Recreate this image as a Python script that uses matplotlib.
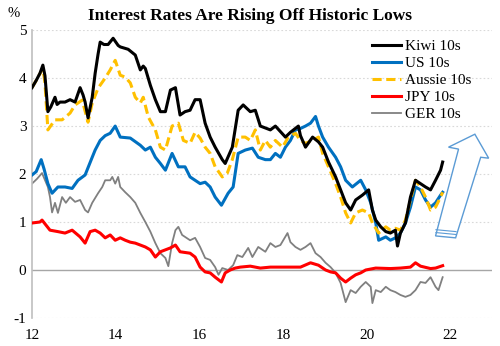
import matplotlib
matplotlib.use("Agg")
import matplotlib.pyplot as plt
from matplotlib.patches import Polygon

# decimal years (12 = 2012) and 10y yields
kiwi_t = [12.00, 12.10, 12.19, 12.26, 12.31, 12.38, 12.45, 12.55, 12.60, 12.67, 12.79, 12.91,
          13.03, 13.15, 13.22, 13.27, 13.34, 13.44, 13.51, 13.58, 13.63, 13.72, 13.82, 13.94,
          14.06, 14.11, 14.30, 14.47, 14.59, 14.66, 14.71, 14.83, 14.95, 15.07, 15.19, 15.31,
          15.43, 15.54, 15.66, 15.78, 15.90, 16.02, 16.14, 16.26, 16.38, 16.55, 16.62, 16.79,
          16.93, 17.05, 17.22, 17.34, 17.46, 17.70, 17.82, 18.06, 18.18, 18.37, 18.42, 18.54,
          18.71, 18.85, 18.95, 19.09, 19.26, 19.38, 19.50, 19.62, 19.74, 19.90, 20.05, 20.14,
          20.22, 20.34, 20.46, 20.57, 20.69, 20.74, 20.81, 20.93, 21.05, 21.17, 21.29, 21.41,
          21.53, 21.65, 21.77, 21.82]
kiwi = [3.80, 3.95, 4.10, 4.27, 4.05, 3.30, 3.40, 3.60, 3.45, 3.50, 3.50, 3.55,
        3.50, 3.80, 3.65, 3.50, 3.17, 3.60, 4.10, 4.50, 4.75, 4.70, 4.70, 4.83,
        4.68, 4.65, 4.60, 4.48, 4.17, 4.25, 4.20, 3.85, 3.55, 3.30, 3.30, 3.75,
        3.80, 3.23, 3.30, 3.33, 3.55, 3.55, 3.06, 2.77, 2.56, 2.30, 2.22, 2.56,
        3.33, 3.44, 3.30, 3.33, 3.00, 2.92, 3.00, 2.77, 2.87, 3.00, 2.80, 2.56,
        2.77, 2.67, 2.56, 2.25, 1.94, 1.67, 1.40, 1.25, 1.46, 1.56, 1.67, 1.25,
        1.04, 0.90, 0.80, 0.77, 0.83, 0.50, 0.77, 0.98, 1.52, 1.87, 1.80, 1.73,
        1.67, 1.87, 2.08, 2.25]

us_t = [12.00, 12.10, 12.22, 12.29, 12.38, 12.48, 12.62, 12.79, 12.96, 13.10, 13.27, 13.44,
        13.51, 13.63, 13.75, 13.87, 13.99, 14.11, 14.35, 14.59, 14.71, 14.83, 14.95, 15.07,
        15.19, 15.35, 15.50, 15.66, 15.78, 15.90, 16.02, 16.14, 16.26, 16.38, 16.53, 16.69,
        16.81, 16.93, 17.10, 17.27, 17.41, 17.58, 17.70, 17.82, 17.94, 18.06, 18.18, 18.30,
        18.42, 18.54, 18.66, 18.78, 18.85, 18.95, 19.09, 19.26, 19.38, 19.50, 19.66, 19.86,
        19.98, 20.10, 20.22, 20.29, 20.46, 20.57, 20.69, 20.81, 20.93, 21.05, 21.17, 21.29,
        21.41, 21.53, 21.65, 21.77, 21.82]
us = [1.98, 2.05, 2.30, 2.10, 1.80, 1.60, 1.73, 1.73, 1.70, 1.87, 1.98, 2.35,
      2.50, 2.70, 2.80, 2.85, 3.00, 2.77, 2.75, 2.60, 2.50, 2.56, 2.35, 2.22,
      2.08, 2.43, 2.15, 2.15, 1.94, 1.87, 1.80, 1.83, 1.73, 1.52, 1.35, 1.60,
      1.73, 2.43, 2.50, 2.54, 2.35, 2.30, 2.30, 2.43, 2.35, 2.56, 2.70, 2.92,
      2.95, 3.00, 3.06, 3.20, 3.00, 2.77, 2.56, 2.35, 2.15, 1.87, 1.73, 1.87,
      1.67, 1.40, 0.98, 0.62, 0.69, 0.62, 0.67, 0.77, 0.98, 1.31, 1.73, 1.67,
      1.46, 1.31, 1.40, 1.56, 1.62]

aus_t = [12.00, 12.10, 12.26, 12.31, 12.38, 12.55, 12.72, 12.91, 13.03, 13.20, 13.34, 13.44,
         13.58, 13.75, 13.87, 13.99, 14.11, 14.23, 14.35, 14.47, 14.59, 14.66, 14.78, 14.95,
         15.07, 15.19, 15.35, 15.50, 15.62, 15.78, 15.90, 16.02, 16.14, 16.26, 16.38, 16.55,
         16.67, 16.79, 16.93, 17.10, 17.22, 17.34, 17.46, 17.58, 17.70, 17.82, 17.99, 18.13,
         18.30, 18.42, 18.54, 18.71, 18.85, 18.95, 19.09, 19.26, 19.38, 19.50, 19.62, 19.74,
         19.90, 20.05, 20.14, 20.29, 20.46, 20.57, 20.69, 20.81, 20.93, 21.05, 21.17, 21.29,
         21.41, 21.53, 21.65, 21.77, 21.82]
aus = [3.80, 3.95, 4.20, 3.90, 2.92, 3.13, 3.13, 3.27, 3.44, 3.54, 3.08, 3.48,
       3.79, 4.00, 4.17, 4.37, 4.06, 4.02, 3.90, 3.60, 3.48, 3.60, 3.19, 2.92,
       2.56, 2.50, 3.00, 3.06, 2.70, 2.64, 2.87, 2.75, 2.56, 2.43, 2.15, 1.94,
       2.02, 2.30, 2.77, 2.77, 2.70, 2.92, 2.50, 2.70, 2.56, 2.70, 2.56, 2.77,
       2.85, 2.70, 2.64, 2.70, 2.77, 2.43, 2.15, 1.80, 1.52, 1.19, 0.98, 1.19,
       1.25, 1.19, 0.98, 0.77, 0.90, 0.83, 0.87, 0.83, 1.04, 1.46, 1.87, 1.73,
       1.52, 1.25, 1.31, 1.52, 1.62]

jpy_t = [12.00, 12.19, 12.24, 12.43, 12.62, 12.79, 12.96, 13.15, 13.27, 13.39, 13.51, 13.63,
         13.75, 13.87, 13.99, 14.11, 14.23, 14.35, 14.47, 14.59, 14.71, 14.83, 14.95, 15.07,
         15.19, 15.31, 15.43, 15.54, 15.78, 15.90, 16.02, 16.14, 16.26, 16.38, 16.53, 16.62,
         16.74, 16.86, 16.98, 17.22, 17.46, 17.70, 17.94, 18.18, 18.42, 18.66, 18.85, 19.02,
         19.14, 19.26, 19.38, 19.50, 19.62, 19.74, 19.86, 19.98, 20.22, 20.57, 20.81, 21.05,
         21.17, 21.29, 21.53, 21.65, 21.82]
jpy = [0.98, 1.00, 1.04, 0.83, 0.80, 0.77, 0.83, 0.69, 0.56, 0.80, 0.83, 0.77,
       0.67, 0.73, 0.62, 0.67, 0.62, 0.58, 0.56, 0.52, 0.48, 0.42, 0.27, 0.38,
       0.42, 0.46, 0.52, 0.38, 0.35, 0.27, 0.06, -0.04, -0.06, -0.15, -0.25, -0.06,
       0.00, 0.04, 0.06, 0.08, 0.04, 0.06, 0.06, 0.06, 0.06, 0.15, 0.10, 0.00,
       -0.04, -0.06, -0.17, -0.25, -0.17, -0.10, -0.06, 0.00, 0.04, 0.03, 0.04, 0.06,
       0.15, 0.08, 0.03, 0.04, 0.09]

ger_t = [12.00, 12.12, 12.24, 12.38, 12.43, 12.48, 12.55, 12.62, 12.72, 12.81, 12.91, 13.03,
         13.15, 13.27, 13.34, 13.44, 13.58, 13.68, 13.75, 13.87, 13.92, 13.99, 14.06, 14.11,
         14.23, 14.35, 14.47, 14.59, 14.71, 14.83, 14.95, 15.07, 15.19, 15.26, 15.35, 15.43,
         15.50, 15.59, 15.78, 15.90, 16.02, 16.14, 16.26, 16.38, 16.46, 16.55, 16.69, 16.81,
         16.91, 17.03, 17.17, 17.27, 17.41, 17.58, 17.70, 17.82, 17.94, 18.11, 18.18, 18.30,
         18.42, 18.54, 18.66, 18.78, 18.90, 19.02, 19.14, 19.26, 19.38, 19.50, 19.62, 19.74,
         19.86, 19.98, 20.10, 20.14, 20.22, 20.34, 20.46, 20.57, 20.69, 20.81, 20.93, 21.05,
         21.17, 21.29, 21.41, 21.53, 21.65, 21.72, 21.82]
ger = [1.80, 1.90, 2.02, 1.73, 1.52, 1.20, 1.40, 1.19, 1.52, 1.40, 1.52, 1.42,
       1.46, 1.25, 1.20, 1.40, 1.60, 1.73, 1.87, 1.87, 1.94, 1.80, 1.94, 1.73,
       1.62, 1.52, 1.40, 1.19, 1.00, 0.80, 0.56, 0.35, 0.25, 0.08, 0.56, 0.83,
       0.90, 0.73, 0.62, 0.67, 0.48, 0.25, 0.21, 0.06, -0.10, 0.04, 0.00, 0.10,
       0.31, 0.27, 0.46, 0.27, 0.48, 0.38, 0.56, 0.48, 0.52, 0.77, 0.58, 0.48,
       0.42, 0.48, 0.56, 0.35, 0.27, 0.15, 0.06, -0.06, -0.27, -0.67, -0.42, -0.48,
       -0.35, -0.25, -0.35, -0.69, -0.42, -0.46, -0.35, -0.42, -0.46, -0.52, -0.56, -0.52,
       -0.42, -0.25, -0.27, -0.15, -0.35, -0.42, -0.15]

xticks = [12, 14, 16, 18, 20, 22]
yticks = [-1, 0, 1, 2, 3, 4, 5]

serif = ["Liberation Serif", "DejaVu Serif"]
plt.rcParams["font.family"] = serif

fig = plt.figure(figsize=(5, 3.46), dpi=100)
ax = fig.add_axes([0.064, 0.081, 0.92, 0.832])

ax.plot(kiwi_t, kiwi, color="black", lw=2.2, label="Kiwi 10s", zorder=5)
ax.plot(us_t, us, color="#0070C0", lw=2.2, label="US 10s", zorder=3)
ax.plot(aus_t, aus, color="#FFC000", lw=2.2, ls=(0, (3, 1.5)), label="Aussie 10s", zorder=4)
ax.plot(jpy_t, jpy, color="#FF0000", lw=2.2, label="JPY 10s", zorder=3)
ax.plot(ger_t, ger, color="#808080", lw=1.3, label="GER 10s", zorder=2)

ax.set_xlim(12, 23)
ax.set_ylim(-1, 5)
ax.set_xticks(xticks)
ax.set_xticklabels([str(t) for t in xticks])
ax.set_yticks(yticks)
ax.set_yticklabels([str(t) for t in yticks])
ax.tick_params(length=0, labelsize=11, pad=4)
ax.tick_params(axis="x", pad=8)

for y in yticks:
    if y == 0:
        ax.axhline(0, color="#A6A6A6", lw=1, zorder=1)
    else:
        ax.axhline(y, color="#D9D9D9", lw=0.8, ls=(0, (1.5, 2)), zorder=1)

for s in ["top", "right", "bottom"]:
    ax.spines[s].set_visible(False)
ax.spines["left"].set_color("#BFBFBF")
ax.spines["left"].set_linewidth(1.2)

# hollow arrow pointing up
arrow = Polygon([(21.65, 0.71), (22.13, 0.67), (22.73, 2.35), (22.92, 2.33),
                 (22.59, 2.83), (21.96, 2.56), (22.20, 2.52)], closed=True,
                facecolor="white", edgecolor="#5B9BD5", lw=1, zorder=6, clip_on=False)
ax.add_patch(arrow)
for dy in [0.07, 0.13]:
    ax.plot([21.66, 22.14], [0.71 + dy, 0.67 + dy], color="#5B9BD5", lw=0.8, zorder=7)

leg = ax.legend(loc="upper right", bbox_to_anchor=(0.975, 1.0), frameon=False, fontsize=11,
                handlelength=1.9, handletextpad=0.25, labelspacing=0.22, borderaxespad=0.2)

fig.text(0.5, 0.955, "Interest Rates Are Rising Off Historic Lows", ha="center", va="center",
         fontsize=12.5, fontweight="bold")
fig.text(0.028, 0.96, "%", ha="center", va="center", fontsize=10.5)

fig.savefig("out.png", dpi=100)
